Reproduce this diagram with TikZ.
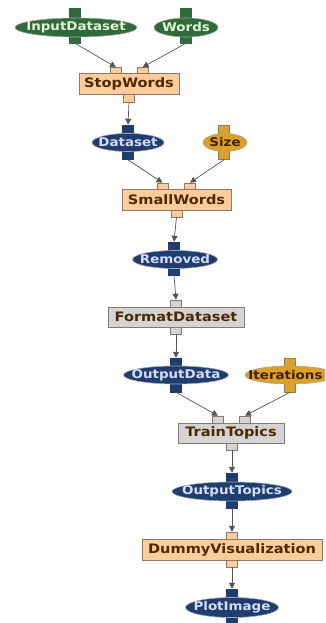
\documentclass[tikz,border=0pt]{standalone}
\usepackage{fontspec}
\setmainfont{DejaVu Sans}[FakeStretch=1.12]
\usetikzlibrary{shapes.geometric,arrows.meta}

\definecolor{grnfill}{HTML}{2F6A3A}
\definecolor{grntext}{HTML}{E2F5D2}
\definecolor{bluefill}{HTML}{1E3E72}
\definecolor{bluetext}{HTML}{D6DCFA}
\definecolor{orfill}{HTML}{E0A21E}
\definecolor{ortext}{HTML}{3A2000}
\definecolor{peach}{HTML}{FFCC99}
\definecolor{graybox}{HTML}{D4D4D4}
\definecolor{boxtext}{HTML}{4A2A00}
\definecolor{boxline}{HTML}{8A7868}
\definecolor{wire}{HTML}{555555}

\tikzset{
  itemfont/.style={font=\fontsize{12}{14}\selectfont\bfseries},
  boxfont/.style={font=\fontsize{13}{15}\selectfont\bfseries},
  dataitem/.style={ellipse, inner sep=0pt, draw=gray!70, line width=0.6pt},
  grnitem/.style={dataitem, fill=grnfill},
  blueitem/.style={dataitem, fill=bluefill},
  oritem/.style={dataitem, fill=orfill},
  grnlbl/.style={itemfont, text=grntext},
  bluelbl/.style={itemfont, text=bluetext},
  orlbl/.style={itemfont, text=ortext},
  taskbox/.style={rectangle, inner sep=0pt, draw=boxline, line width=0.8pt, text=boxtext, boxfont},
  peachbox/.style={taskbox, fill=peach},
  greybox/.style={taskbox, fill=graybox},
  port/.style={rectangle, inner sep=0pt, minimum width=11pt, draw=boxline, line width=0.5pt},
  grnport/.style={port, fill=grnfill, draw=grnfill},
  blueport/.style={port, fill=bluefill, draw=bluefill},
  orport/.style={port, fill=orfill, draw=boxline},
  peachport/.style={port, fill=peach},
  greyport/.style={port, fill=graybox},
  flow/.style={draw=wire, line width=0.7pt, -{Triangle[length=6pt,width=6pt]}}
}

\begin{document}
\begin{tikzpicture}[x=1pt, y=-1pt]
\useasboundingbox (0,0) rectangle (325,623);
\clip (0,0) rectangle (325,623);

% ---- InputDataset / Words -> StopWords
\node[grnport, minimum height=12pt] (inA) at (75,14) {};
\node[grnport, minimum height=9pt] (inB) at (75,38.5) {};
\node[grnitem, minimum width=122pt, minimum height=19pt,
      label={[grnlbl]center:InputDataset}] (input) at (76,27.5) {};
\node[grnport, minimum height=12pt] (wdA) at (186,14) {};
\node[grnport, minimum height=9pt] (wdB) at (186,38.5) {};
\node[grnitem, minimum width=64pt, minimum height=19pt,
      label={[grnlbl]center:Words}] (words) at (186,27.5) {};

\node[peachport, minimum height=6pt] (swI1) at (116,70.5) {};
\node[peachport, minimum height=6pt] (swI2) at (142.5,70.5) {};
\node[peachport, minimum height=8pt] (swO) at (129,98) {};
\node[peachbox, minimum width=100pt, minimum height=21pt] (stop) at (129,83.5) {StopWords};

% ---- Dataset / Size -> SmallWords
\node[blueport, minimum height=10pt] (dsA) at (128,130) {};
\node[blueport, minimum height=9pt] (dsB) at (128,155) {};
\node[blueitem, minimum width=72pt, minimum height=18pt,
      label={[bluelbl]center:Dataset}] (dataset) at (128,142.5) {};
\node[orport, minimum height=10pt] (szA) at (224,130) {};
\node[orport, minimum height=9pt] (szB) at (224,155) {};
\node[oritem, minimum width=44pt, minimum height=18pt,
      label={[orlbl]center:Size}] (size) at (225,142.5) {};

\node[peachport, minimum height=6pt] (smI1) at (162.5,186) {};
\node[peachport, minimum height=6pt] (smI2) at (190,186) {};
\node[peachport, minimum height=7pt] (smO) at (176.5,213.5) {};
\node[peachbox, minimum width=109pt, minimum height=21pt] (small) at (176.5,199.5) {SmallWords};

% ---- Removed -> FormatDataset
\node[blueport, minimum height=10pt] (rmA) at (174,247) {};
\node[blueport, minimum height=8pt] (rmB) at (174,271) {};
\node[blueitem, minimum width=85pt, minimum height=18pt,
      label={[bluelbl]center:Removed}] (removed) at (175,259.5) {};

\node[greyport, minimum height=7pt] (fdI) at (176,303.5) {};
\node[greyport, minimum height=7pt] (fdO) at (176,330.5) {};
\node[greybox, minimum width=136pt, minimum height=20pt] (format) at (176,317) {FormatDataset};

% ---- OutputData / Iterations -> TrainTopics
\node[blueport, minimum height=10pt] (odA) at (176,363) {};
\node[blueport, minimum height=10pt] (odB) at (176,387) {};
\node[blueitem, minimum width=105pt, minimum height=18pt,
      label={[bluelbl]center:OutputData}] (outdata) at (176,375) {};
\node[orport, minimum height=10pt] (itA) at (290,363) {};
\node[orport, minimum height=10pt] (itB) at (290,387) {};
\node[oritem, minimum width=90pt, minimum height=18pt,
      label={[orlbl, xshift=-4.5pt]center:Iterations}] (iter) at (290,375) {};

\node[greyport, minimum height=7pt] (ttI1) at (218,419.5) {};
\node[greyport, minimum height=7pt] (ttI2) at (245,419.5) {};
\node[greyport, minimum height=7pt] (ttO) at (232,446.5) {};
\node[greybox, minimum width=106pt, minimum height=20pt] (train) at (231,433) {TrainTopics};

% ---- OutputTopics -> DummyVisualization -> PlotImage
\node[blueport, minimum height=10pt] (otA) at (232,478) {};
\node[blueport, minimum height=8pt] (otB) at (232,504) {};
\node[blueitem, minimum width=120pt, minimum height=19pt,
      label={[bluelbl]center:OutputTopics}] (outtopics) at (232,491.5) {};

\node[peachport, minimum height=7pt] (dvI) at (232,535.5) {};
\node[peachport, minimum height=7pt] (dvO) at (232,563.5) {};
\node[peachbox, minimum width=180pt, minimum height=21pt] (dummy) at (232,549.5) {DummyVisualization};

\node[blueport, minimum height=9pt] (piA) at (232,593.5) {};
\node[blueport, minimum height=8pt] (piB) at (232,620) {};
\node[blueitem, minimum width=93pt, minimum height=20pt,
      label={[bluelbl]center:PlotImage}] (plot) at (232,607.5) {};

% ---- connectors
\draw[flow] (inB.south) -- (swI1.north);
\draw[flow] (wdB.south) -- (swI2.north);
\draw[flow] (swO.south) -- (dsA.north);
\draw[flow] (dsB.south) -- (smI1.north);
\draw[flow] (szB.south) -- (smI2.north);
\draw[flow] (smO.south) -- (rmA.north);
\draw[flow] (rmB.south) -- (fdI.north);
\draw[flow] (fdO.south) -- (odA.north);
\draw[flow] (odB.south) -- (ttI1.north);
\draw[flow] (itB.south) -- (ttI2.north);
\draw[flow] (ttO.south) -- (otA.north);
\draw[flow] (otB.south) -- (dvI.north);
\draw[flow] (dvO.south) -- (piA.north);
\end{tikzpicture}
\end{document}
